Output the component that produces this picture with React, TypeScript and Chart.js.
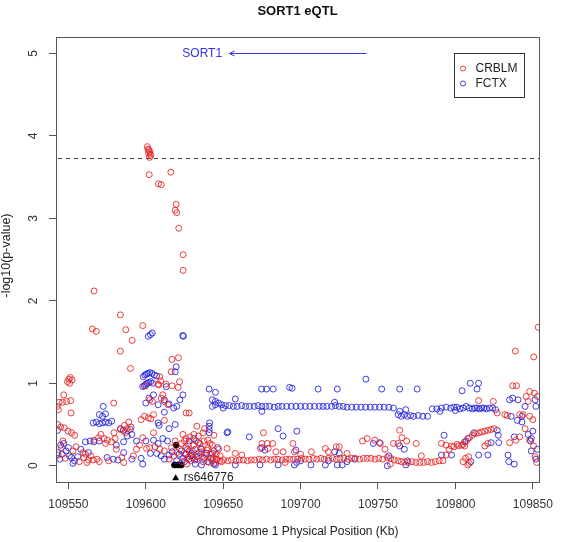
import React, { useEffect, useRef } from "react";
import { Chart, registerables } from "chart.js";

Chart.register(...registerables);

// ---------- text ----------
const chartTitle = "SORT1 eQTL";
const xAxisTitle = "Chromosome 1 Physical Position (Kb)";
const yAxisTitle = "-log10(p-value)";
const seriesNames = ["CRBLM", "FCTX"];
const geneName = "SORT1";
const snpName = "rs646776";

// ---------- axes ----------
const xTickValues = [109550, 109600, 109650, 109700, 109750, 109800, 109850];
const yTickValues = [0, 1, 2, 3, 4, 5];
const xMin = 109542;
const xMax = 109854;
const yMin = -0.197;
const yMax = 5.2;

// ---------- annotations ----------
const thresholdY = 3.73;
const geneY = 5;
const geneArrowFrom = 109742.6;
const geneArrowTo = 109654.1;
const geneLabelEnd = 109649.3;
const snpMarkerX = 109619.3;
const snpMarkerY = -0.145;

// ---------- data: CRBLM ----------
const crblmPeak: [number, number][] = [
  [109601.0, 3.87], [109601.4, 3.84], [109602.0, 3.83], [109602.6, 3.81], [109601.8, 3.79],
  [109602.9, 3.78], [109603.2, 3.76], [109602.4, 3.74], [109602.2, 3.53], [109616.2, 3.56],
  [109608.2, 3.42], [109610.0, 3.41], [109619.6, 3.17], [109619.0, 3.10], [109620.0, 3.07],
  [109621.3, 2.88], [109624.1, 2.56], [109624.1, 2.37], [109566.6, 2.12],
  [109583.6, 1.83], [109565.5, 1.66], [109568.0, 1.63], [109598.0, 1.70], [109587.1, 1.65],
  [109591.2, 1.52], [109583.6, 1.39], [109590.1, 1.18], [109616.9, 1.29], [109621.1, 1.31],
  [109609.0, 1.08], [109609.6, 1.03], [109608.4, 0.98], [109616.4, 1.14], [109621.8, 1.02],
  [109620.9, 0.95],
];

const crblmLeft: [number, number][] = [
  [109549.4, 1.02], [109550.3, 1.05], [109551.2, 1.07], [109552.4, 1.04], [109550.8, 1.00],
  [109547.0, 0.86], [109544.0, 0.77], [109546.2, 0.77], [109548.8, 0.78], [109551.5, 0.79],
  [109542.8, 0.72], [109551.7, 0.64], [109543.5, 0.68], [109579.3, 0.76],
  [109545.0, 0.47], [109547.4, 0.46], [109549.8, 0.42], [109552.0, 0.40], [109554.0, 0.37],
  [109543.2, 0.50], [109545.5, 0.22], [109543.4, 0.13], [109548.0, 0.09], [109553.0, 0.18],
  [109555.0, 0.23], [109561.0, 0.14], [109563.0, 0.07], [109566.0, 0.07], [109568.5, 0.08],
  [109562.0, 0.04], [109560.0, 0.10], [109571.0, 0.38], [109573.0, 0.33], [109575.2, 0.31],
  [109577.8, 0.29], [109579.5, 0.40], [109580.2, 0.33], [109574.0, 0.27], [109569.5, 0.34],
  [109566.5, 0.31], [109583.6, 0.44], [109585.5, 0.43], [109586.2, 0.49], [109589.0, 0.53],
  [109588.0, 0.45], [109590.5, 0.47], [109587.0, 0.40], [109597.0, 0.56], [109599.2, 0.60],
  [109601.6, 0.58], [109603.2, 0.57], [109605.0, 0.62], [109585.7, 0.04], [109584.5, 0.10],
  [109592.0, 0.12], [109602.7, 0.80], [109604.2, 0.78], [109610.0, 0.82], [109612.0, 0.78],
  [109614.3, 0.74], [109611.0, 0.86], [109626.0, 0.64], [109628.0, 0.64], [109600.0, 0.97],
  [109608.0, 0.99], [109613.0, 0.99], [109617.0, 0.97], [109600.5, 0.21], [109602.5, 0.22],
  [109606.0, 0.23], [109609.0, 0.20], [109598.0, 0.34], [109596.0, 0.25], [109612.0, 0.55],
  [109605.0, 0.40], [109557.0, 0.05], [109559.5, 0.16], [109564.5, 0.12], [109570.0, 0.05],
  [109576.0, 0.06], [109581.0, 0.20], [109594.0, 0.20], [109546.5, 0.30],
];

const crblmCluster: [number, number][] = [
  [109624.0, 0.38], [109626.0, 0.33], [109628.5, 0.35], [109631.0, 0.38], [109634.0, 0.36],
  [109637.0, 0.40], [109640.0, 0.31], [109625.0, 0.30], [109626.0, 0.22], [109628.0, 0.18],
  [109630.0, 0.15], [109632.0, 0.20], [109634.0, 0.12], [109636.0, 0.17], [109638.0, 0.10],
  [109640.0, 0.22], [109642.0, 0.14], [109644.0, 0.18], [109646.0, 0.08], [109648.0, 0.12],
  [109629.0, 0.06], [109633.0, 0.08], [109637.0, 0.05], [109641.0, 0.04], [109627.0, 0.10],
  [109631.0, 0.25], [109635.0, 0.27], [109639.0, 0.13], [109643.0, 0.25], [109645.0, 0.04],
  [109622.0, 0.20], [109620.0, 0.16], [109618.0, 0.12], [109615.0, 0.08], [109612.0, 0.18],
  [109633.0, 0.48], [109638.0, 0.45], [109616.5, 0.22], [109619.0, 0.30], [109623.0, 0.27],
  [109625.5, 0.14], [109627.5, 0.26], [109630.5, 0.10], [109632.5, 0.30], [109635.5, 0.21],
  [109637.5, 0.30], [109639.5, 0.19], [109641.5, 0.27], [109643.5, 0.10], [109645.5, 0.14],
  [109647.0, 0.20], [109649.0, 0.05], [109623.5, 0.05], [109626.5, 0.02], [109628.5, 0.12],
];

const crblmBand: [number, number][] = [
  [109643.0, 0.06], [109645.6, 0.07], [109647.9, 0.06], [109650.4, 0.07], [109653.1, 0.06],
  [109655.3, 0.07], [109658.2, 0.06], [109660.4, 0.07], [109663.0, 0.07], [109665.7, 0.06],
  [109668.1, 0.07], [109670.3, 0.07], [109673.2, 0.08], [109675.4, 0.07], [109678.0, 0.08],
  [109680.7, 0.07], [109683.1, 0.08], [109685.3, 0.08], [109688.2, 0.07], [109690.6, 0.08],
  [109693.0, 0.08], [109695.4, 0.08], [109698.1, 0.08], [109700.6, 0.09], [109703.0, 0.08],
  [109705.4, 0.08], [109708.2, 0.09], [109710.5, 0.08], [109713.1, 0.09], [109715.3, 0.08],
  [109718.0, 0.09], [109720.6, 0.09], [109723.1, 0.08], [109725.4, 0.09], [109728.0, 0.09],
  [109730.6, 0.08], [109733.0, 0.09], [109735.3, 0.09], [109738.1, 0.08], [109740.6, 0.09],
  [109743.0, 0.09], [109745.4, 0.09], [109748.1, 0.08], [109750.5, 0.09], [109753.0, 0.08],
  [109756.0, 0.10], [109758.1, 0.09], [109760.5, 0.07], [109763.0, 0.06], [109765.1, 0.05],
  [109767.2, 0.05], [109769.5, 0.04], [109772.0, 0.05], [109774.5, 0.04], [109777.0, 0.04],
  [109779.5, 0.04], [109782.0, 0.05], [109784.5, 0.04], [109787.0, 0.05], [109789.5, 0.06],
  [109792.0, 0.06], [109794.0, 0.13], [109796.0, 0.20], [109799.0, 0.23], [109802.0, 0.24],
  [109805.0, 0.26], [109807.0, 0.30], [109809.0, 0.34], [109811.0, 0.37], [109813.0, 0.39],
  [109815.0, 0.40], [109817.0, 0.41], [109819.0, 0.42], [109821.0, 0.43], [109823.0, 0.44],
  [109825.0, 0.45],
];

const crblmRight: [number, number][] = [
  [109652.5, 0.21], [109657.8, 0.15], [109676.0, 0.40], [109675.0, 0.27], [109678.5, 0.27],
  [109682.0, 0.27], [109674.0, 0.21], [109679.0, 0.21], [109684.0, 0.17], [109688.7, 0.17],
  [109695.0, 0.27], [109696.0, 0.17], [109700.0, 0.14], [109707.0, 0.17], [109716.0, 0.21],
  [109718.0, 0.17], [109723.0, 0.23], [109725.0, 0.23], [109740.0, 0.30], [109743.0, 0.33],
  [109748.0, 0.31], [109644.0, 0.37], [109662.0, 0.13], [109690.0, 0.04], [109730.0, 0.15],
  [109764.0, 0.43], [109765.5, 0.34], [109768.5, 0.30], [109763.0, 0.27], [109760.0, 0.27],
  [109751.5, 0.27], [109754.5, 0.20], [109774.7, 0.27], [109778.0, 0.12], [109758.0, 0.02],
  [109791.0, 0.27], [109794.0, 0.25], [109797.5, 0.24], [109801.0, 0.26], [109804.0, 0.25],
  [109806.0, 0.24], [109808.6, 0.11], [109809.0, 0.03], [109808.0, 0.01], [109805.0, 0.05],
  [109806.5, 0.09], [109821.0, 0.27], [109819.0, 0.24], [109824.5, 0.78], [109815.0, 0.79],
  [109832.0, 0.62], [109833.5, 0.61], [109835.0, 0.28], [109839.0, 0.31], [109841.5, 0.62],
  [109843.6, 0.62], [109848.0, 0.60], [109850.0, 0.56], [109837.0, 0.97], [109839.5, 0.97],
  [109845.7, 0.84], [109848.0, 0.90], [109851.0, 0.88], [109853.0, 0.84], [109847.0, 0.78],
  [109848.0, 0.31], [109850.5, 0.24], [109852.5, 0.04], [109851.5, 0.11], [109838.7, 1.39],
  [109850.6, 1.32], [109853.5, 1.68], [109841.5, 0.35], [109845.0, 0.45], [109827.0, 0.64],
];

// ---------- data: FCTX ----------
const fctxLeft: [number, number][] = [
  [109601.6, 1.57], [109603.0, 1.59], [109604.2, 1.61], [109623.9, 1.58], [109624.3, 1.57],
  [109619.6, 1.20], [109619.0, 1.14], [109598.4, 1.08], [109599.4, 1.10], [109600.4, 1.11],
  [109601.4, 1.12], [109602.5, 1.13], [109604.0, 1.12], [109605.5, 1.10], [109607.0, 1.09],
  [109598.0, 0.96], [109599.0, 0.97], [109600.0, 0.99], [109601.0, 1.00], [109602.0, 1.01],
  [109603.2, 1.02], [109604.4, 1.00], [109613.2, 0.96], [109640.9, 0.93],
  [109600.0, 0.76], [109602.0, 0.82], [109605.0, 0.86], [109608.0, 0.74], [109612.0, 0.80],
  [109615.0, 0.75], [109618.0, 0.70], [109620.0, 0.72], [109622.0, 0.80], [109624.0, 0.86],
  [109612.0, 0.65], [109608.6, 0.49], [109608.0, 0.52], [109615.0, 0.45], [109619.0, 0.50],
  [109641.0, 0.40], [109641.0, 0.44], [109641.0, 0.48], [109641.2, 0.52], [109653.0, 0.41],
  [109607.0, 0.15], [109610.0, 0.12], [109612.0, 0.08], [109615.0, 0.13], [109620.0, 0.06],
  [109624.0, 0.09], [109617.0, 0.17], [109626.0, 0.14], [109628.0, 0.08], [109630.0, 0.18],
  [109633.0, 0.11], [109636.0, 0.20], [109639.0, 0.15], [109642.0, 0.09], [109632.0, 0.02],
  [109636.0, 0.01], [109644.0, 0.02], [109600.0, 0.30], [109605.0, 0.31], [109608.0, 0.27],
  [109611.0, 0.33], [109614.0, 0.30], [109628.0, 0.30], [109631.0, 0.33], [109634.0, 0.28],
  [109572.5, 0.72], [109570.0, 0.62], [109572.0, 0.60], [109574.0, 0.63], [109566.0, 0.52],
  [109568.0, 0.53], [109570.0, 0.51], [109572.0, 0.52], [109574.0, 0.53], [109576.0, 0.52],
  [109578.0, 0.54], [109561.0, 0.29], [109564.0, 0.30], [109566.5, 0.29], [109570.0, 0.30],
  [109583.6, 0.45], [109585.5, 0.43], [109590.0, 0.44], [109591.0, 0.38], [109588.0, 0.36],
  [109545.0, 0.25], [109547.0, 0.27], [109550.0, 0.22], [109548.5, 0.18], [109546.0, 0.14],
  [109550.6, 0.12], [109552.0, 0.10], [109554.0, 0.06], [109556.0, 0.11], [109553.0, 0.03],
  [109543.0, 0.16], [109543.0, 0.43], [109544.5, 0.08], [109579.0, 0.08], [109582.0, 0.07],
  [109591.0, 0.08], [109597.0, 0.09], [109575.0, 0.10], [109585.7, 0.16], [109585.7, 0.29],
  [109598.0, 0.02], [109603.0, 0.15], [109621.5, 0.14], [109623.0, 0.18], [109625.0, 0.05],
  [109627.0, 0.20], [109629.5, 0.13], [109631.5, 0.07], [109634.5, 0.16], [109637.5, 0.09],
  [109640.0, 0.05], [109643.0, 0.15], [109646.5, 0.22], [109558.0, 0.20], [109563.0, 0.16],
  [109581.0, 0.25], [109594.0, 0.30],
];

const fctxBand: [number, number][] = [
  [109643.0, 0.80], [109645.0, 0.78], [109647.0, 0.76], [109649.0, 0.74], [109651.5, 0.73],
  [109654.0, 0.73], [109656.5, 0.72], [109659.0, 0.72], [109662.0, 0.73], [109664.5, 0.72],
  [109667.0, 0.72], [109670.0, 0.72], [109672.5, 0.73], [109675.0, 0.72], [109677.5, 0.72],
  [109680.0, 0.72], [109683.0, 0.71], [109685.5, 0.72], [109688.0, 0.72], [109691.0, 0.72],
  [109694.0, 0.72], [109697.0, 0.72], [109700.0, 0.72], [109703.0, 0.72], [109706.0, 0.72],
  [109709.0, 0.72], [109712.0, 0.72], [109714.5, 0.72], [109717.0, 0.72], [109720.0, 0.72],
  [109722.5, 0.73], [109725.0, 0.72], [109727.5, 0.72], [109730.0, 0.71], [109733.0, 0.71],
  [109736.0, 0.71], [109739.0, 0.71], [109742.0, 0.71], [109745.0, 0.71], [109748.0, 0.71],
  [109751.0, 0.71], [109754.0, 0.71], [109757.0, 0.71], [109760.0, 0.70],
  [109657.8, 0.81], [109675.0, 0.66], [109722.0, 0.77], [109650.0, 0.70], [109643.0, 0.72],
  [109645.0, 0.74], [109763.0, 0.62], [109765.0, 0.60], [109767.0, 0.62], [109769.0, 0.60],
  [109771.0, 0.61], [109773.0, 0.60], [109776.0, 0.61], [109779.0, 0.60], [109782.0, 0.60],
  [109764.0, 0.66], [109768.0, 0.68], [109785.0, 0.69], [109788.0, 0.69], [109791.0, 0.70],
  [109794.0, 0.71], [109797.0, 0.70], [109799.0, 0.71], [109801.0, 0.71], [109803.0, 0.69],
  [109805.0, 0.70], [109807.0, 0.72], [109809.0, 0.70], [109811.0, 0.69], [109812.5, 0.70],
  [109814.0, 0.70], [109815.5, 0.69], [109817.0, 0.70], [109818.5, 0.70], [109820.0, 0.69],
  [109822.0, 0.70], [109824.0, 0.70], [109826.0, 0.68], [109836.0, 0.60], [109843.0, 0.60],
  [109800.0, 0.67], [109790.0, 0.66],
];

const fctxRight: [number, number][] = [
  [109674.8, 0.93], [109678.0, 0.93], [109682.3, 0.93], [109692.9, 0.95], [109694.5, 0.94],
  [109711.3, 0.93], [109723.7, 0.93], [109742.2, 1.05], [109752.4, 0.93], [109764.0, 0.93],
  [109775.3, 0.93], [109804.3, 0.91], [109809.6, 1.00], [109815.0, 1.00], [109814.0, 0.93],
  [109645.0, 0.89], [109652.5, 0.40], [109666.8, 0.35], [109685.5, 0.45], [109688.7, 0.36],
  [109697.6, 0.42], [109747.0, 0.27], [109675.0, 0.22], [109677.0, 0.19], [109697.0, 0.19],
  [109722.0, 0.17], [109725.0, 0.15], [109645.0, 0.01], [109657.8, 0.01], [109673.8, 0.01],
  [109685.5, 0.01], [109696.0, 0.01], [109697.5, 0.04], [109706.7, 0.01], [109716.0, 0.01],
  [109723.7, 0.01], [109726.9, 0.01], [109718.0, 0.06], [109730.0, 0.05], [109735.0, 0.08],
  [109700.0, 0.06], [109751.0, 0.28], [109764.0, 0.24], [109767.0, 0.20], [109769.0, 0.06],
  [109756.0, 0.00], [109768.0, 0.01], [109757.0, 0.12], [109792.7, 0.37], [109791.0, 0.13],
  [109797.5, 0.13], [109806.0, 0.29], [109808.0, 0.33], [109815.0, 0.13], [109821.0, 0.13],
  [109827.7, 0.37], [109827.0, 0.43], [109828.0, 0.28], [109823.0, 0.28], [109834.0, 0.13],
  [109834.5, 0.05], [109838.0, 0.02], [109838.0, 0.35], [109840.0, 0.55], [109843.0, 0.53],
  [109847.0, 0.38], [109849.0, 0.33], [109850.0, 0.42], [109848.5, 0.30], [109849.0, 0.18],
  [109852.0, 0.08], [109853.0, 0.20], [109835.0, 0.80], [109837.0, 0.82], [109840.5, 0.80],
  [109852.0, 0.72], [109851.5, 0.80], [109845.0, 0.72], [109810.0, 0.05], [109812.0, 0.40],
];

// ---------- data: lead SNP ----------
const snpPoints: [number, number][] = [
  [109619.6, 0.25], [109618.6, 0.01], [109620.7, 0.01], [109622.8, 0.01],
];

const crblmColor = "rgba(232, 30, 30, 0.85)";
const fctxColor = "rgba(30, 30, 225, 0.85)";
const geneColor = "#3535e0";
const FONT = "'Liberation Sans', Arial, Helvetica, sans-serif";

const toXY = (pts: [number, number][]) => pts.map(([x, y]) => ({ x, y }));

const overlayPlugin = {
  id: "rOverlay",
  beforeDatasetsDraw(chart: any) {
    const { ctx, chartArea: a, scales } = chart;
    const yp = scales.y.getPixelForValue(thresholdY);
    ctx.save();
    ctx.strokeStyle = "#444";
    ctx.lineWidth = 1;
    ctx.setLineDash([4, 4]);
    ctx.beginPath();
    ctx.moveTo(a.left + 2, Math.round(yp) + 0.5);
    ctx.lineTo(a.right, Math.round(yp) + 0.5);
    ctx.stroke();
    ctx.restore();
  },
  afterDraw(chart: any) {
    const { ctx, chartArea: a, scales } = chart;
    const xs = scales.x;
    const ys = scales.y;
    ctx.save();
    // plot box
    ctx.strokeStyle = "#555";
    ctx.lineWidth = 1;
    ctx.strokeRect(Math.round(a.left) + 0.5, Math.round(a.top) + 0.5, Math.round(a.right - a.left), Math.round(a.bottom - a.top));

    // y tick labels (rotated, R style)
    ctx.fillStyle = "#333";
    ctx.font = `12px ${FONT}`;
    ctx.textAlign = "center";
    ctx.textBaseline = "middle";
    yTickValues.forEach((v) => {
      const py = ys.getPixelForValue(v);
      ctx.save();
      ctx.translate(34, py);
      ctx.rotate(-Math.PI / 2);
      ctx.fillText(String(v), 0, 0);
      ctx.restore();
    });

    // axis titles
    ctx.fillStyle = "#222";
    ctx.font = `12px ${FONT}`;
    ctx.fillText(xAxisTitle, (a.left + a.right) / 2, 532);
    ctx.save();
    ctx.translate(7, (a.top + a.bottom) / 2 - 4);
    ctx.rotate(-Math.PI / 2);
    ctx.font = `12.5px ${FONT}`;
    ctx.fillText(yAxisTitle, 0, 0);
    ctx.restore();

    // main title
    ctx.fillStyle = "#111";
    ctx.font = `bold 13px ${FONT}`;
    ctx.fillText(chartTitle, (a.left + a.right) / 2, 11);

    // gene arrow
    const gy = Math.round(ys.getPixelForValue(geneY)) + 0.5;
    const gx1 = xs.getPixelForValue(geneArrowFrom);
    const gx2 = xs.getPixelForValue(geneArrowTo);
    ctx.strokeStyle = geneColor;
    ctx.lineWidth = 1;
    ctx.beginPath();
    ctx.moveTo(gx1, gy);
    ctx.lineTo(gx2, gy);
    ctx.moveTo(gx2 + 5, gy - 2.5);
    ctx.lineTo(gx2, gy);
    ctx.lineTo(gx2 + 5, gy + 2.5);
    ctx.stroke();
    ctx.fillStyle = geneColor;
    ctx.textAlign = "right";
    ctx.font = `12px ${FONT}`;
    ctx.fillText(geneName, xs.getPixelForValue(geneLabelEnd), gy);

    // lead SNP marker
    const sx = xs.getPixelForValue(snpMarkerX);
    const sy = ys.getPixelForValue(snpMarkerY);
    ctx.fillStyle = "#000";
    ctx.beginPath();
    ctx.moveTo(sx, sy - 3.5);
    ctx.lineTo(sx + 3.5, sy + 2.5);
    ctx.lineTo(sx - 3.5, sy + 2.5);
    ctx.closePath();
    ctx.fill();
    ctx.fillStyle = "#222";
    ctx.textAlign = "left";
    ctx.font = `12px ${FONT}`;
    ctx.fillText(snpName, sx + 8, sy);

    // legend
    const lw = 70;
    const lh = 44;
    const lx = Math.round(a.right - 15 - lw) + 0.5;
    const ly = Math.round(a.top + 16) + 0.5;
    ctx.fillStyle = "#fff";
    ctx.fillRect(lx, ly, lw, lh);
    ctx.strokeStyle = "#333";
    ctx.strokeRect(lx, ly, lw, lh);
    const colors = [crblmColor, fctxColor];
    seriesNames.forEach((name, i) => {
      const cy = ly + 15 + i * 15;
      ctx.strokeStyle = colors[i];
      ctx.beginPath();
      ctx.arc(lx + 8.5, cy, 2.5, 0, Math.PI * 2);
      ctx.stroke();
      ctx.fillStyle = "#222";
      ctx.font = `12px ${FONT}`;
      ctx.textAlign = "left";
      ctx.textBaseline = "middle";
      ctx.fillText(name, lx + 21, cy);
    });
    ctx.restore();
  },
};

export default function App() {
  const canvasRef = useRef<HTMLCanvasElement | null>(null);

  useEffect(() => {
    document.body.style.margin = "0";
    const canvas = canvasRef.current;
    if (!canvas) return;
    const pointStyle = {
      pointRadius: 3,
      pointBorderWidth: 1,
      pointStyle: "circle" as const,
      showLine: false,
    };
    const chart = new Chart(canvas, {
      type: "scatter",
      data: {
        datasets: [
          {
            label: seriesNames[0],
            data: toXY([...crblmPeak, ...crblmLeft, ...crblmCluster, ...crblmBand, ...crblmRight]),
            borderColor: crblmColor,
            backgroundColor: "rgba(0,0,0,0)",
            ...pointStyle,
          },
          {
            label: seriesNames[1],
            data: toXY([...fctxLeft, ...fctxBand, ...fctxRight]),
            borderColor: fctxColor,
            backgroundColor: "rgba(0,0,0,0)",
            ...pointStyle,
          },
          {
            label: snpName,
            data: toXY(snpPoints),
            borderColor: "#000",
            backgroundColor: "#000",
            ...pointStyle,
          },
        ],
      },
      options: {
        responsive: false,
        animation: false,
        devicePixelRatio: 1,
        layout: { padding: { top: 37, right: 14, left: 0, bottom: 0 } },
        plugins: {
          legend: { display: false },
          title: { display: false },
          tooltip: { enabled: false },
        },
        scales: {
          x: {
            type: "linear",
            min: xMin,
            max: xMax,
            afterFit: (s: any) => {
              s.height = 60;
            },
            afterBuildTicks: (s: any) => {
              s.ticks = xTickValues.map((v) => ({ value: v }));
            },
            grid: { drawOnChartArea: false, drawTicks: true, tickLength: 7, color: "#555" },
            border: { display: false },
            ticks: {
              font: { family: FONT, size: 12 },
              color: "#333",
              padding: 8,
              maxRotation: 0,
              autoSkip: false,
              callback: (v: any) => String(v),
            },
          },
          y: {
            type: "linear",
            min: yMin,
            max: yMax,
            afterFit: (s: any) => {
              s.width = 56;
            },
            afterBuildTicks: (s: any) => {
              s.ticks = yTickValues.map((v) => ({ value: v }));
            },
            grid: { drawOnChartArea: false, drawTicks: true, tickLength: 7, color: "#555" },
            border: { display: false },
            ticks: { display: false },
          },
        },
      },
      plugins: [overlayPlugin],
    });
    return () => chart.destroy();
  }, []);

  return (
    <div style={{ width: 561, height: 542, background: "#fff" }}>
      <canvas ref={canvasRef} width={561} height={542} style={{ display: "block" }} />
    </div>
  );
}
